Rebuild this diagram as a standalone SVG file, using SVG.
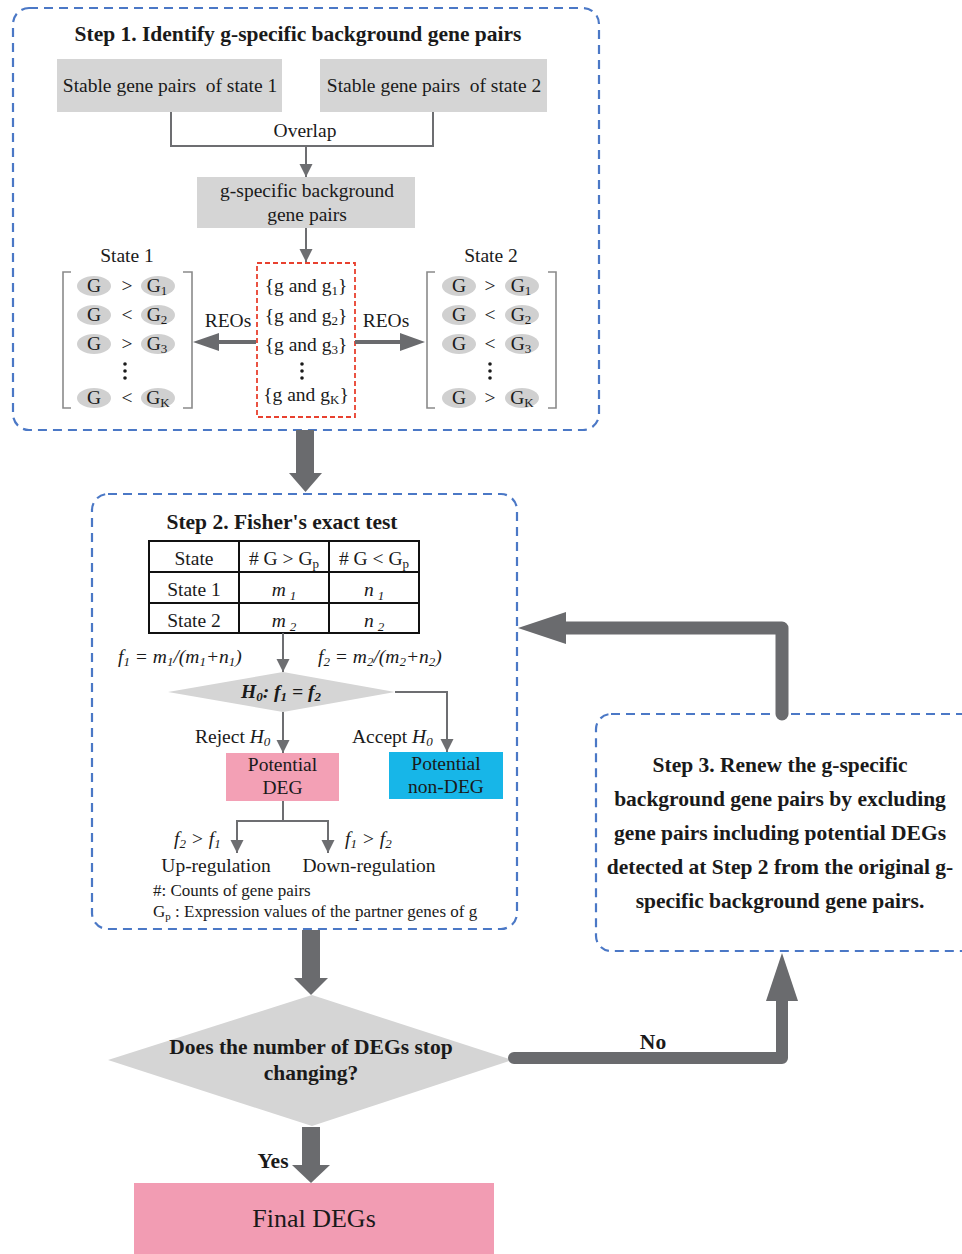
<svg xmlns="http://www.w3.org/2000/svg" width="962" height="1254" viewBox="0 0 962 1254">
<style>
text{font-family:"Liberation Serif","Times New Roman",serif;fill:#1a1a1a}
.r{font-size:19.5px}
.c{text-anchor:middle}
.b{font-size:21.5px;font-weight:bold}
.s{font-size:17px}
.i{font-style:italic}
.sub{font-size:13px}
.dash{fill:none;stroke:#4b78c6;stroke-width:2.2;stroke-dasharray:9 6}
.red{fill:none;stroke:#e8412f;stroke-width:1.8;stroke-dasharray:5 3}
.ln{fill:none;stroke:#6d6e71;stroke-width:2}
.thick{fill:none;stroke:#6a6b6e;stroke-linecap:round;stroke-linejoin:round}
.hd{fill:#6a6b6e}
.gray{fill:#d5d5d5}
.ov{fill:#d0d0d0}
.br{fill:none;stroke:#8a8a8a;stroke-width:1.6}
.tb{fill:#fff;stroke:#111;stroke-width:2}
.dot{fill:#1a1a1a}
</style>
<defs>
<marker id="ah" markerUnits="userSpaceOnUse" markerWidth="14" markerHeight="14" refX="13" refY="6.5" orient="auto">
<path d="M0,0 L13,6.5 L0,13 z" fill="#6d6e71"/>
</marker>
</defs>

<!-- Step 1 -->
<g id="step1">
<rect class="dash" x="13" y="8" width="586" height="422" rx="16"/>
<text class="b c" x="298" y="41">Step 1. Identify g-specific background gene pairs</text>
</g>
<g id="stable1">
<rect class="gray" x="57" y="59" width="225" height="53"/>
<text class="r c" x="170" y="92" xml:space="preserve">Stable gene pairs  of state 1</text>
</g>
<g id="stable2">
<rect class="gray" x="320" y="59" width="227" height="53"/>
<text class="r c" x="434" y="92" xml:space="preserve">Stable gene pairs  of state 2</text>
</g>
<g id="gspecific">
<rect class="gray" x="197" y="177" width="218" height="51"/>
<text class="r c" x="307" y="197">g-specific background</text>
<text class="r c" x="307" y="221">gene pairs</text>
</g>
<g id="pairs">
<rect class="red" x="257" y="263" width="98" height="154"/>
<text class="r c" x="306" y="292">{g and g<tspan class="sub" dy="3">1</tspan><tspan dy="-3">}</tspan></text>
<text class="r c" x="306" y="322">{g and g<tspan class="sub" dy="3">2</tspan><tspan dy="-3">}</tspan></text>
<text class="r c" x="306" y="351">{g and g<tspan class="sub" dy="3">3</tspan><tspan dy="-3">}</tspan></text>
<circle class="dot" cx="302" cy="364" r="1.8"/><circle class="dot" cx="302" cy="371" r="1.8"/><circle class="dot" cx="302" cy="378" r="1.8"/>
<text class="r c" x="306" y="401">{g and g<tspan class="sub" dy="3">K</tspan><tspan dy="-3">}</tspan></text>
</g>
<g id="state1">
<text class="r c" x="127" y="262">State 1</text>
<path class="br" d="M71,272 H63 V408 H71"/>
<path class="br" d="M183,272 H192 V408 H183"/>
<ellipse class="ov" cx="94" cy="286" rx="17" ry="10"/><ellipse class="ov" cx="158" cy="286" rx="17" ry="10"/>
<ellipse class="ov" cx="94" cy="315" rx="17" ry="10"/><ellipse class="ov" cx="158" cy="315" rx="17" ry="10"/>
<ellipse class="ov" cx="94" cy="344" rx="17" ry="10"/><ellipse class="ov" cx="158" cy="344" rx="17" ry="10"/>
<ellipse class="ov" cx="94" cy="398" rx="17" ry="10"/><ellipse class="ov" cx="158" cy="398" rx="17" ry="10"/>
<text class="r c" x="94" y="292">G</text><text class="r c" x="127" y="292">&gt;</text><text class="r c" x="157" y="292">G<tspan class="sub" dy="3">1</tspan></text>
<text class="r c" x="94" y="321">G</text><text class="r c" x="127" y="321">&lt;</text><text class="r c" x="157" y="321">G<tspan class="sub" dy="3">2</tspan></text>
<text class="r c" x="94" y="350">G</text><text class="r c" x="127" y="350">&gt;</text><text class="r c" x="157" y="350">G<tspan class="sub" dy="3">3</tspan></text>
<circle class="dot" cx="125" cy="364" r="1.8"/><circle class="dot" cx="125" cy="371" r="1.8"/><circle class="dot" cx="125" cy="378" r="1.8"/>
<text class="r c" x="94" y="404">G</text><text class="r c" x="127" y="404">&lt;</text><text class="r c" x="158" y="404">G<tspan class="sub" dy="3">K</tspan></text>
</g>
<g id="state2">
<text class="r c" x="491" y="262">State 2</text>
<path class="br" d="M435,272 H427 V408 H435"/>
<path class="br" d="M548,272 H556 V408 H548"/>
<ellipse class="ov" cx="459" cy="286" rx="17" ry="10"/><ellipse class="ov" cx="522" cy="286" rx="17" ry="10"/>
<ellipse class="ov" cx="459" cy="315" rx="17" ry="10"/><ellipse class="ov" cx="522" cy="315" rx="17" ry="10"/>
<ellipse class="ov" cx="459" cy="344" rx="17" ry="10"/><ellipse class="ov" cx="522" cy="344" rx="17" ry="10"/>
<ellipse class="ov" cx="459" cy="398" rx="17" ry="10"/><ellipse class="ov" cx="522" cy="398" rx="17" ry="10"/>
<text class="r c" x="459" y="292">G</text><text class="r c" x="490" y="292">&gt;</text><text class="r c" x="521" y="292">G<tspan class="sub" dy="3">1</tspan></text>
<text class="r c" x="459" y="321">G</text><text class="r c" x="490" y="321">&lt;</text><text class="r c" x="521" y="321">G<tspan class="sub" dy="3">2</tspan></text>
<text class="r c" x="459" y="350">G</text><text class="r c" x="490" y="350">&lt;</text><text class="r c" x="521" y="350">G<tspan class="sub" dy="3">3</tspan></text>
<circle class="dot" cx="490" cy="364" r="1.8"/><circle class="dot" cx="490" cy="371" r="1.8"/><circle class="dot" cx="490" cy="378" r="1.8"/>
<text class="r c" x="459" y="404">G</text><text class="r c" x="490" y="404">&gt;</text><text class="r c" x="522" y="404">G<tspan class="sub" dy="3">K</tspan></text>
</g>

<!-- Step 2 -->
<g id="step2">
<rect class="dash" x="92" y="494" width="425" height="435" rx="16"/>
<text class="b c" x="282" y="529">Step 2. Fisher's exact test</text>
</g>
<g id="table">
<rect class="tb" x="149" y="541" width="270" height="92"/>
<path d="M239,541 V633 M329,541 V633 M149,572 H419 M149,603 H419" stroke="#111" stroke-width="2" fill="none"/>
<text class="r c" x="194" y="565">State</text>
<text class="r c" x="284" y="565"># G &gt; G<tspan class="sub" dy="3">p</tspan></text>
<text class="r c" x="374" y="565"># G &lt; G<tspan class="sub" dy="3">p</tspan></text>
<text class="r c" x="194" y="596">State 1</text>
<text class="r c i" x="284" y="596">m<tspan class="sub" dx="4" dy="4">1</tspan></text>
<text class="r c i" x="374" y="596">n<tspan class="sub" dx="4" dy="4">1</tspan></text>
<text class="r c" x="194" y="627">State 2</text>
<text class="r c i" x="284" y="627">m<tspan class="sub" dx="4" dy="4">2</tspan></text>
<text class="r c i" x="374" y="627">n<tspan class="sub" dx="4" dy="4">2</tspan></text>
</g>
<g id="formulas">
<text class="r i" x="118" y="663">f<tspan class="sub" dy="3">1</tspan><tspan dy="-3"> = m</tspan><tspan class="sub" dy="3">1</tspan><tspan dy="-3">/(m</tspan><tspan class="sub" dy="3">1</tspan><tspan dy="-3">+n</tspan><tspan class="sub" dy="3">1</tspan><tspan dy="-3">)</tspan></text>
<text class="r i" x="318" y="663">f<tspan class="sub" dy="3">2</tspan><tspan dy="-3"> = m</tspan><tspan class="sub" dy="3">2</tspan><tspan dy="-3">/(m</tspan><tspan class="sub" dy="3">2</tspan><tspan dy="-3">+n</tspan><tspan class="sub" dy="3">2</tspan><tspan dy="-3">)</tspan></text>
</g>
<g id="h0">
<polygon class="gray" points="168,692 283,672 395,692 283,712"/>
<text class="r c i" x="281" y="698" font-weight="bold">H<tspan class="sub" dy="3">0</tspan><tspan dy="-3">: f</tspan><tspan class="sub" dy="3">1</tspan><tspan dy="-3"> = f</tspan><tspan class="sub" dy="3">2</tspan></text>
</g>
<g id="deg">
<rect x="226" y="753" width="113" height="48" fill="#f3a0b5"/>
<text class="r c" x="282.5" y="771">Potential</text>
<text class="r c" x="282.5" y="794">DEG</text>
</g>
<g id="nondeg">
<rect x="389" y="752" width="114" height="47" fill="#17b6e8"/>
<text class="r c" x="446" y="770">Potential</text>
<text class="r c" x="446" y="793">non-DEG</text>
</g>
<g id="labels2">
<text class="r" x="195" y="743">Reject <tspan class="i">H<tspan class="sub" dy="3">0</tspan></tspan></text>
<text class="r" x="352" y="743">Accept <tspan class="i">H<tspan class="sub" dy="3">0</tspan></tspan></text>
<text class="r i" x="174" y="845">f<tspan class="sub" dy="3">2</tspan><tspan dy="-3"> &gt; f</tspan><tspan class="sub" dy="3">1</tspan></text>
<text class="r i" x="345" y="845">f<tspan class="sub" dy="3">1</tspan><tspan dy="-3"> &gt; f</tspan><tspan class="sub" dy="3">2</tspan></text>
</g>
<g id="up"><text class="r c" x="216" y="872">Up-regulation</text></g>
<g id="down"><text class="r c" x="369" y="872">Down-regulation</text></g>
<g id="notes">
<text class="s" x="153" y="896">#: Counts of gene pairs</text>
<text class="s" x="153" y="917">G<tspan font-size="11" dy="3">p</tspan><tspan dy="-3"> : Expression values of the partner genes of g</tspan></text>
</g>

<!-- Step 3 -->
<g id="step3">
<rect class="dash" x="596" y="714" width="382" height="237" rx="15"/>
<text class="b c" x="780" y="772">Step 3. Renew the g-specific</text>
<text class="b c" x="780" y="806">background gene pairs by excluding</text>
<text class="b c" x="780" y="840">gene pairs including potential DEGs</text>
<text class="b c" x="780" y="874">detected at Step 2 from the original g-</text>
<text class="b c" x="780" y="908">specific background gene pairs.</text>
</g>

<!-- Decision -->
<g id="decision">
<polygon class="gray" points="108,1060 312,995 512,1060 312,1126"/>
<text class="b c" x="311" y="1054">Does the number of DEGs stop</text>
<text class="b c" x="311" y="1080">changing?</text>
</g>
<g id="final">
<rect x="134" y="1183" width="360" height="75" fill="#f29cb3"/>
<text class="c" x="314" y="1227" font-size="26">Final DEGs</text>
</g>

<!-- Connectors -->
<g id="connectors">
<path class="ln" d="M171,112 V146 H433 V112"/>
<text class="r c" x="305" y="137">Overlap</text>
<line class="ln" x1="306" y1="146" x2="306" y2="177" marker-end="url(#ah)"/>
<line class="ln" x1="306" y1="228" x2="306" y2="262" marker-end="url(#ah)"/>
<line x1="256" y1="342" x2="218" y2="342" stroke="#6a6b6e" stroke-width="4"/>
<polygon class="hd" points="219,333 219,351 193,342"/>
<line x1="355" y1="342" x2="401" y2="342" stroke="#6a6b6e" stroke-width="4"/>
<polygon class="hd" points="400,333 400,351 425,342"/>
<text class="r c" x="228" y="327">REOs</text>
<text class="r c" x="386" y="327">REOs</text>
<rect class="hd" x="296" y="430" width="18" height="44"/>
<polygon class="hd" points="289,473 322,473 305.5,492"/>
<line class="ln" x1="283" y1="633" x2="283" y2="672" marker-end="url(#ah)"/>
<path class="ln" d="M395,692 H447 V752" marker-end="url(#ah)"/>
<line class="ln" x1="283" y1="712" x2="283" y2="753" marker-end="url(#ah)"/>
<path class="ln" d="M283,801 V821"/>
<path class="ln" d="M284,821 H237 V853" marker-end="url(#ah)"/>
<path class="ln" d="M282,821 H328 V853" marker-end="url(#ah)"/>
<rect class="hd" x="302" y="930" width="18" height="49"/>
<polygon class="hd" points="294,978 328,978 311,995"/>
<rect class="hd" x="302" y="1127" width="18" height="39"/>
<polygon class="hd" points="292,1165 330,1165 311,1183"/>
<text class="b c" x="273" y="1168">Yes</text>
<path class="thick" stroke-width="12" d="M514,1058 H782 V1000"/>
<polygon class="hd" points="766,1001 798,1001 782,953"/>
<text class="b c" x="653" y="1049">No</text>
<path class="thick" stroke-width="13" d="M782,714 V628 H564"/>
<polygon class="hd" points="566,612 566,644 518,628"/>
</g>
</svg>
